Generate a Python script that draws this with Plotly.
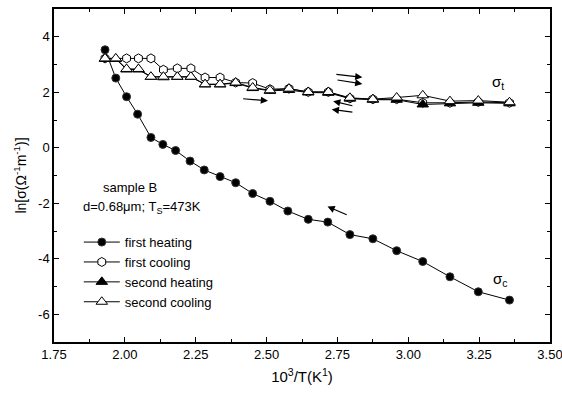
import plotly.graph_objects as go

# ---- data ----
fh_x = [1.930, 1.968, 2.006, 2.045, 2.092, 2.134, 2.179, 2.230, 2.280, 2.336, 2.391, 2.451,
        2.512, 2.575, 2.647, 2.716, 2.794, 2.875, 2.959, 3.051, 3.147, 3.247, 3.357]
fh_y = [3.53, 2.51, 1.84, 1.21, 0.37, 0.12, -0.10, -0.48, -0.80, -1.04, -1.26, -1.65,
        -1.93, -2.28, -2.58, -2.68, -3.13, -3.28, -3.71, -4.10, -4.65, -5.19, -5.49]

fc_x = [1.930, 2.006, 2.048, 2.092, 2.136, 2.185, 2.233, 2.283, 2.336, 2.391, 2.451,
        2.512, 2.579, 2.647, 2.718, 2.794, 2.875, 2.959, 3.051, 3.147, 3.247, 3.357]
fc_y = [3.22, 3.22, 3.22, 3.22, 2.81, 2.86, 2.86, 2.53, 2.53, 2.35, 2.33,
        2.11, 2.13, 2.01, 2.01, 1.78, 1.75, 1.75, 1.62, 1.62, 1.65, 1.62]

sh_x = [1.930, 1.968, 2.006, 2.048, 2.092, 2.136, 2.185, 2.233, 2.283, 2.336, 2.391, 2.451,
        2.512, 2.579, 2.647, 2.718, 2.794, 2.875, 2.959, 3.051, 3.147, 3.247, 3.357]
sh_y = [3.20, 3.20, 2.82, 2.82, 2.55, 2.54, 2.55, 2.55, 2.28, 2.28, 2.33, 2.15,
        2.05, 2.08, 1.99, 1.98, 1.77, 1.73, 1.73, 1.56, 1.60, 1.62, 1.60]

sc_x = sh_x
sc_y = [3.22, 3.22, 2.84, 2.84, 2.56, 2.56, 2.56, 2.56, 2.29, 2.29, 2.35, 2.17,
        2.07, 2.13, 2.01, 2.01, 1.80, 1.75, 1.81, 1.89, 1.68, 1.70, 1.64]

names = ["first heating", "first cooling", "second heating", "second cooling"]
x_ticks = [1.75, 2.00, 2.25, 2.50, 2.75, 3.00, 3.25, 3.50]
y_ticks = [-6, -4, -2, 0, 2, 4]

# arrows: (tail x, tail y, head x, head y)
arrows = [
    (2.412, 1.77, 2.505, 1.69),
    (2.741, 2.65, 2.838, 2.54),
    (2.745, 2.45, 2.838, 2.30),
    (2.808, 1.50, 2.735, 1.68),
    (2.808, 1.28, 2.730, 1.38),
    (2.788, -2.44, 2.715, -2.12),
]

FONT = "Liberation Sans, Arial, sans-serif"

fig = go.Figure()
fig.add_trace(go.Scatter(x=fh_x, y=fh_y, mode="lines+markers", name=names[0],
                         line=dict(color="black", width=1),
                         marker=dict(symbol="circle", size=8, color="black",
                                     line=dict(color="#333", width=1))))
fig.add_trace(go.Scatter(x=fc_x, y=fc_y, mode="lines+markers", name=names[1],
                         line=dict(color="black", width=1),
                         marker=dict(symbol="hexagon", size=9, color="white",
                                     line=dict(color="black", width=1))))
fig.add_trace(go.Scatter(x=sh_x, y=sh_y, mode="lines+markers", name=names[2],
                         line=dict(color="black", width=1),
                         marker=dict(symbol="triangle-up", size=10, color="black",
                                     line=dict(color="black", width=1))))
fig.add_trace(go.Scatter(x=sc_x, y=sc_y, mode="lines+markers", name=names[3],
                         line=dict(color="black", width=1),
                         marker=dict(symbol="triangle-up", size=10, color="white",
                                     line=dict(color="black", width=1))))

annotations = []
for tx, ty, hx, hy in arrows:
    annotations.append(dict(x=hx, y=hy, ax=tx, ay=ty, xref="x", yref="y",
                            axref="x", ayref="y", text="", showarrow=True,
                            arrowhead=2, arrowsize=1.2, arrowwidth=1.2,
                            arrowcolor="black"))
annotations += [
    dict(x=3.317, y=2.36, xref="x", yref="y", text="σ<sub>t</sub>", showarrow=False,
         font=dict(size=15, family=FONT, color="black")),
    dict(x=3.324, y=-4.73, xref="x", yref="y", text="σ<sub>c</sub>", showarrow=False,
         font=dict(size=15, family=FONT, color="black")),
    dict(x=1.917, y=-1.45, xref="x", yref="y", text="sample B", showarrow=False,
         xanchor="left", font=dict(size=13, family=FONT, color="black")),
    dict(x=1.846, y=-2.15, xref="x", yref="y",
         text="d=0.68μm; T<sub>S</sub>=473K", showarrow=False,
         xanchor="left", font=dict(size=13, family=FONT, color="black")),
]

axis_common = dict(showline=True, linecolor="black", linewidth=1.5, mirror="ticks",
                   ticks="inside", ticklen=5, tickwidth=1.2, tickcolor="black",
                   showgrid=False, zeroline=False, automargin=False,
                   ticklabeloverflow="allow",
                   tickfont=dict(size=13, family=FONT, color="black"))

fig.update_layout(
    width=562, height=401,
    margin=dict(l=54, r=12, t=9, b=59),
    plot_bgcolor="white", paper_bgcolor="white",
    font=dict(family=FONT, color="black"),
    xaxis=dict(range=[1.75, 3.50], tickvals=x_ticks,
               ticktext=[f"{v:.2f}" for v in x_ticks],
               minor=dict(dtick=0.125, tick0=1.75, ticks="inside", ticklen=3,
                          tickcolor="black", tickwidth=1),
               title=dict(text="10<sup>3</sup>/T(K<sup>1</sup>)",
                          font=dict(size=15, family=FONT), standoff=10),
               **axis_common),
    yaxis=dict(range=[-7, 5], tickvals=y_ticks,
               ticktext=[str(v) for v in y_ticks],
               minor=dict(dtick=1, tick0=0, ticks="inside", ticklen=3,
                          tickcolor="black", tickwidth=1),
               title=dict(text="ln[σ(Ω<sup>-1</sup>m<sup>-1</sup>)]",
                          font=dict(size=14, family=FONT), standoff=8),
               **axis_common),
    showlegend=True,
    legend=dict(x=0.05, y=0.345, xanchor="left", yanchor="top",
                bgcolor="rgba(0,0,0,0)", borderwidth=0,
                font=dict(size=13, family=FONT, color="black"),
                tracegroupgap=0, itemwidth=36),
    annotations=annotations,
)

fig.write_html("out.html", config={"displayModeBar": False},
               post_script="document.body.style.margin='0';document.body.style.overflow='hidden';")
